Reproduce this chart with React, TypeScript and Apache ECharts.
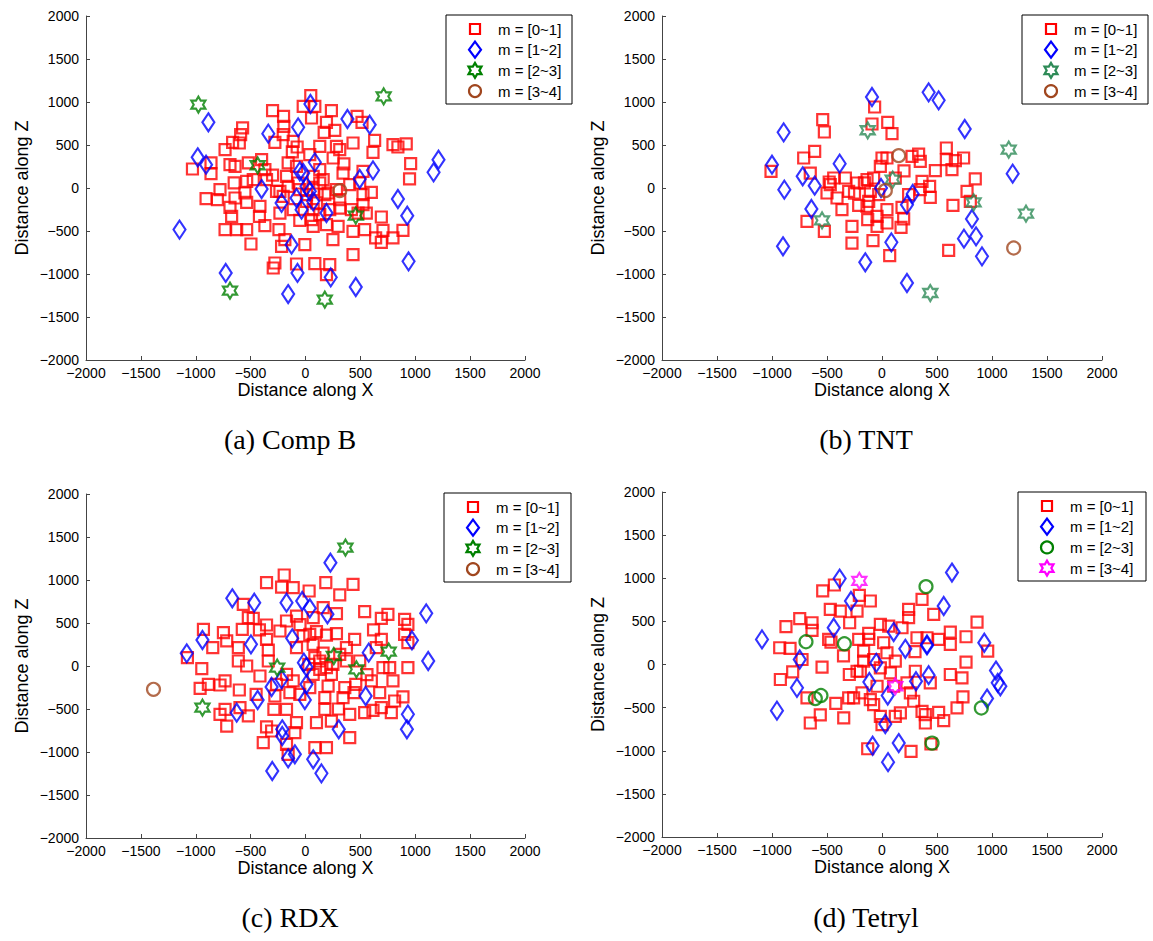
import React, { useEffect, useRef } from "react";
import * as echarts from "echarts";

// ---------- texts ----------
const legendLabels = ["m = [0~1]", "m = [1~2]", "m = [2~3]", "m = [3~4]"];
const captions = ["(a) Comp B", "(b) TNT", "(c) RDX", "(d) Tetryl"];
const xTitle = "Distance along X";
const zTitle = "Distance along Z";
const axisMin = -2000;
const axisMax = 2000;
const axisStep = 500;

// ---------- (a) Comp B ----------
const compB_m01 = [
  [48, 1074], [-21, 950], [85, 950], [-300, 899], [-200, 833], [55, 814], [236, 899], [470, 833],
  [515, 764], [191, 764], [267, 670], [170, 647], [-197, 717], [-203, 620], [-573, 698], [-591, 620],
  [-603, 523], [-664, 531], [-733, 446], [-279, 531], [-112, 543], [-76, 477], [130, 484], [282, 484],
  [312, 446], [433, 523], [630, 554], [615, 415], [797, 504], [842, 477], [918, 512], [958, 283],
  [948, 105], [252, 349], [39, 388], [-158, 291], [-400, 329], [-521, 291], [-688, 271], [-642, 252],
  [-861, 291], [-1030, 221], [-861, 167], [-779, -19], [-906, -124], [-803, -136], [-642, -116], [-688, -225],
  [-673, -329], [-552, -58], [-536, -167], [-415, -213], [-370, 213], [-536, 78], [-476, 97], [-733, -484],
  [-627, -484], [-536, -484], [-497, -651], [-370, -438], [-242, -484], [-218, -678], [-188, -601], [-6, -659],
  [-279, -872], [-294, -930], [-82, -884], [85, -880], [221, -891], [191, -1008], [433, -775], [433, -504],
  [539, -484], [297, -446], [191, -426], [70, -446], [55, -368], [-52, -376], [691, -337], [554, -291],
  [706, -492], [639, -581], [691, -632], [797, -581], [888, -492], [524, -194], [524, -78], [494, 58],
  [524, 194], [342, 174], [130, 213], [161, 97], [206, -58], [312, -136], [312, -233], [70, -252],
  [-112, -252], [-203, -97], [-264, -39], [-173, 136], [-82, 252], [-355, 97], [-233, -291], [100, -174],
  [221, -252], [418, -252], [479, -291], [9, -78], [70, -19], [-52, -19], [130, 58], [70, 136],
  [-67, 58], [176, -78], [-158, 19], [-233, -39], [9, -155], [130, -310], [282, -19], [403, 39],
  [-300, 150], [-120, 420], [350, 280], [-420, -330], [250, -600], [600, -50], [-650, 60],
];
const compB_m12 = [
  [45, 977], [-885, 764], [-339, 632], [-67, 705], [382, 802], [585, 736], [-982, 357], [-906, 271],
  [85, 298], [-52, 194], [-21, 174], [-400, -12], [615, 205], [494, 105], [1212, 329], [1167, 182],
  [9, 19], [39, -39], [-82, -116], [70, -155], [-218, -174], [-36, -252], [191, -291], [842, -128],
  [927, -322], [-1148, -484], [-127, -659], [-727, -988], [-73, -988], [230, -1039], [-158, -1233], [458, -1151],
  [939, -853],
];
const compB_m23 = [[-976, 969], [712, 1066], [-436, 264], [458, -322], [-688, -1194], [176, -1298]];
const compB_m34 = [[312, -31]];

// ---------- (b) TNT ----------
const tnt_m01 = [
  [-67, 942], [-91, 744], [-539, 795], [-524, 651], [52, 764], [91, 632], [-612, 426], [-712, 349],
  [-1009, 194], [-652, 174], [-439, 116], [-333, 116], [-470, 39], [-500, -58], [-409, -116], [-303, -39],
  [-227, 58], [-136, 97], [-76, 116], [0, 349], [45, 349], [-15, 252], [121, 116], [273, 368],
  [333, 395], [348, 310], [485, 202], [585, 465], [585, 329], [636, 213], [667, 318], [742, 349],
  [848, 105], [773, -39], [803, -155], [645, -202], [439, -109], [433, 19], [364, 78], [348, -19],
  [242, -78], [182, -225], [197, -360], [173, -457], [45, -252], [45, -407], [-45, -446], [-45, -329],
  [-130, -368], [-136, -213], [-121, -155], [-212, -202], [-273, -446], [-273, -640], [-82, -612], [70, -787],
  [606, -725], [-682, -388], [-524, -504], [-364, -252], [-106, -39], [-30, -78], [-160, 60], [-480, 70],
  [-250, -60], [200, 200],
];
const tnt_m12 = [
  [-91, 1058], [424, 1112], [515, 1019], [-894, 647], [752, 686], [-1000, 271], [-385, 283], [-721, 136],
  [-612, 27], [-888, -19], [1188, 167], [-9, 0], [279, -70], [227, -194], [-642, -244], [818, -360],
  [855, -562], [745, -589], [909, -795], [-900, -678], [85, -632], [-152, -864], [227, -1105],
];
const tnt_m23 = [[-130, 671], [1152, 446], [97, 97], [833, -167], [1309, -298], [-545, -376], [439, -1221]];
const tnt_m34 = [[152, 376], [30, -31], [1197, -698]];

// ---------- (c) RDX ----------
const rdx_m01 = [
  [-194, 1058], [-355, 969], [-218, 918], [-112, 911], [33, 872], [185, 969], [312, 826], [433, 950],
  [-567, 717], [-521, 562], [-476, 554], [-355, 477], [-173, 523], [-82, 581], [70, 562], [161, 678],
  [282, 608], [539, 632], [691, 554], [751, 601], [903, 543], [933, 484], [903, 368], [933, 271],
  [691, 310], [645, 213], [448, 310], [373, 213], [282, 376], [191, 360], [39, 368], [-233, 407],
  [-355, 310], [-576, 426], [-748, 388], [-718, 291], [-930, 426], [-845, 213], [-1076, 97], [-612, 213],
  [-612, 58], [-536, 0], [-339, 186], [-339, 58], [-415, -116], [-945, -31], [-960, -260], [-885, -213],
  [-779, -221], [-733, -174], [-603, -279], [-779, -562], [-733, -504], [-597, -484], [-521, -581], [-718, -698],
  [-355, -709], [-309, -756], [-385, -891], [-288, -504], [-173, -504], [-82, -659], [-97, -775], [-173, -911],
  [-158, -1027], [85, -950], [191, -950], [100, -659], [236, -640], [176, -504], [176, -368], [206, -233],
  [403, -833], [403, -562], [539, -543], [615, -515], [691, -484], [782, -543], [812, -407], [888, -360],
  [676, -310], [797, -174], [706, -19], [767, -19], [933, -19], [600, -174], [458, -213], [442, -310],
  [342, -368], [358, -252], [312, 136], [373, 58], [494, 58], [130, 58], [191, -19], [70, -97],
  [39, -252], [-52, -329], [-112, -174], [-173, -97], [-82, 213], [70, 252], [-21, 349], [-279, -349],
  [-142, -310], [130, -39], [236, -97], [85, 97], [-264, -213], [160, 150], [30, 20], [250, 20],
  [-420, 420], [560, -100], [-50, 480], [300, -500], [-450, -330], [620, 420], [100, 400],
];
const rdx_m12 = [
  [227, 1201], [-667, 787], [-467, 736], [-173, 736], [-30, 756], [39, 671], [200, 601], [1100, 612],
  [-939, 302], [-1082, 147], [-497, 252], [-121, 322], [970, 298], [576, 155], [1118, 58], [-15, 39],
  [9, -12], [9, -213], [-218, -155], [-309, -244], [-436, -395], [-6, -395], [548, -349], [-627, -543],
  [933, -562], [924, -736], [303, -736], [-212, -736], [-212, -814], [-97, -1027], [-158, -1074], [70, -1085],
  [145, -1248], [-303, -1221],
];
const rdx_m23 = [[364, 1376], [-258, -19], [258, 116], [464, -39], [758, 167], [-939, -484]];
const rdx_m34 = [[-1385, -271]];

// ---------- (d) Tetryl ----------
const tetryl_m01 = [
  [-539, 853], [-433, 922], [-470, 640], [-379, 620], [-227, 620], [-206, 802], [-106, 736], [-294, 484],
  [-636, 484], [-748, 531], [-873, 438], [-636, 395], [-485, 291], [-464, 260], [-930, 194], [-836, 186],
  [-727, 58], [-545, -31], [-812, -85], [-924, -174], [-682, -388], [-561, -585], [-652, -678], [-348, -620],
  [-303, -388], [-258, -388], [-297, -116], [-227, -78], [-197, -78], [-212, 291], [-121, 360], [-121, 291],
  [-167, 155], [15, 252], [61, 446], [-15, 465], [45, 136], [121, 39], [76, -97], [-76, 58],
  [-15, -39], [-167, 39], [-182, -329], [-106, -407], [-76, -465], [-15, -601], [0, -698], [121, -601],
  [167, -562], [242, 543], [242, 640], [182, 426], [364, 756], [470, 581], [318, 310], [409, 310],
  [515, 291], [621, 376], [621, 233], [764, 322], [864, 492], [961, 155], [764, 27], [621, -116],
  [727, -155], [736, -376], [682, -504], [515, -554], [561, -651], [394, -581], [394, -678], [364, -543],
  [288, -426], [258, -329], [439, -213], [303, -78], [227, -213], [264, -1008], [-130, -977], [445, -922],
  [106, -252], [-45, -252], [-350, 100], [300, 150], [-420, -450],
];
const tetryl_m12 = [
  [-385, 996], [636, 1066], [-282, 736], [561, 678], [-439, 426], [106, 376], [-1091, 291], [212, 182],
  [409, 221], [409, 233], [930, 252], [-748, 58], [-52, 19], [424, -124], [309, -194], [-115, -202],
  [-773, -271], [52, -360], [1036, -70], [1052, -213], [1076, -252], [955, -395], [-955, -535], [30, -690],
  [152, -911], [-85, -942], [55, -1132],
];
const tetryl_m23 = [[400, 903], [-691, 264], [-342, 240], [-606, -395], [-555, -360], [903, -504], [455, -911]];
const tetryl_m34 = [[-206, 969], [121, -252]];

// ---------- styling (not data) ----------
const SANS = '"Liberation Sans", Arial, Helvetica, sans-serif';
const SERIF = '"Liberation Serif", "Times New Roman", serif';
const HEX_PATH =
  "path://M50 0 L35.57 25 L6.7 25 L21.13 50 L6.7 75 L35.57 75 L50 100 L64.43 75 L93.3 75 L78.87 50 L93.3 25 L64.43 25 Z";

type Marker = { kind: "square" | "diamond" | "hex" | "circle"; color: string };
const RED = "#ff0000";
const BLUE = "#0000ff";
const GREEN = "#008000";
const SEAGREEN = "#2e8b57";
const BROWN = "#a0461e";
const MAGENTA = "#ff00ff";

const panels = [
  {
    grid: { left: 86, top: 16, width: 439, height: 344 },
    legendBox: [446, 15, 126, 89],
    caption: [290, 439],
    sets: [compB_m01, compB_m12, compB_m23, compB_m34],
    markers: [
      { kind: "square", color: RED }, { kind: "diamond", color: BLUE },
      { kind: "hex", color: GREEN }, { kind: "circle", color: BROWN },
    ] as Marker[],
  },
  {
    grid: { left: 662, top: 16, width: 440, height: 344 },
    legendBox: [1022, 15, 126, 89],
    caption: [866, 439],
    sets: [tnt_m01, tnt_m12, tnt_m23, tnt_m34],
    markers: [
      { kind: "square", color: RED }, { kind: "diamond", color: BLUE },
      { kind: "hex", color: SEAGREEN }, { kind: "circle", color: BROWN },
    ] as Marker[],
  },
  {
    grid: { left: 86, top: 494, width: 439, height: 344 },
    legendBox: [444, 493, 127, 89],
    caption: [290, 917],
    sets: [rdx_m01, rdx_m12, rdx_m23, rdx_m34],
    markers: [
      { kind: "square", color: RED }, { kind: "diamond", color: BLUE },
      { kind: "hex", color: GREEN }, { kind: "circle", color: BROWN },
    ] as Marker[],
  },
  {
    grid: { left: 662, top: 492, width: 440, height: 345 },
    legendBox: [1018, 492, 128, 89],
    caption: [866, 917],
    sets: [tetryl_m01, tetryl_m12, tetryl_m23, tetryl_m34],
    markers: [
      { kind: "square", color: RED }, { kind: "diamond", color: BLUE },
      { kind: "circle", color: GREEN }, { kind: "hex", color: MAGENTA },
    ] as Marker[],
  },
];

function symbolOf(m: Marker) {
  switch (m.kind) {
    case "square":
      return { symbol: "rect", symbolSize: 11 };
    case "diamond":
      return { symbol: "diamond", symbolSize: [12, 18] };
    case "hex":
      return { symbol: HEX_PATH, symbolSize: [14, 16] };
    default:
      return { symbol: "circle", symbolSize: 13 };
  }
}

function hexPoints(R: number) {
  const pts: number[][] = [];
  for (let i = 0; i < 12; i++) {
    const ang = Math.PI / 2 + (i * Math.PI) / 6;
    const r = i % 2 === 0 ? R : R / Math.sqrt(3);
    pts.push([r * Math.cos(ang), -r * Math.sin(ang)]);
  }
  return pts;
}

function legendMarker(m: Marker, cx: number, cy: number) {
  const style = { fill: "none", stroke: m.color, lineWidth: 2.2 };
  if (m.kind === "square") return { type: "rect", shape: { x: cx - 5, y: cy - 5, width: 10, height: 10 }, style };
  if (m.kind === "diamond")
    return { type: "polygon", shape: { points: [[cx, cy - 8], [cx + 6, cy], [cx, cy + 8], [cx - 6, cy]] }, style };
  if (m.kind === "circle") return { type: "circle", shape: { cx, cy, r: 6 }, style };
  return { type: "polygon", shape: { points: hexPoints(7.5).map(([x, y]) => [cx + x, cy + y]) }, style };
}

const fmt = (v: number) => (v < 0 ? "\u2212" + Math.abs(v) : String(v));

export default function App() {
  const ref = useRef<HTMLDivElement>(null);
  useEffect(() => {
    if (!ref.current) return;
    const chart = echarts.init(ref.current, undefined, { renderer: "svg" });

    const axisCommon = {
      type: "value",
      min: axisMin,
      max: axisMax,
      interval: axisStep,
      splitLine: { show: false },
      axisLine: { show: true, onZero: false, lineStyle: { color: "#444", width: 1 } },
      axisTick: { show: true, inside: true, length: 4, lineStyle: { color: "#444" } },
      nameLocation: "middle",
      nameTextStyle: { fontSize: 18, color: "#000", fontFamily: SANS },
    };

    const series: any[] = [];
    panels.forEach((p, pi) => {
      p.sets.forEach((data, si) => {
        const m = p.markers[si];
        series.push({
          type: "scatter",
          name: legendLabels[si] + " #" + pi,
          xAxisIndex: pi,
          yAxisIndex: pi,
          data,
          ...symbolOf(m),
          itemStyle: { color: "rgba(0,0,0,0)", borderColor: m.color, borderWidth: 2.2 },
          emphasis: { disabled: true },
          silent: true,
        });
      });
    });

    const graphics: any[] = [];
    panels.forEach((p, pi) => {
      const [bx, by, bw, bh] = p.legendBox;
      const children: any[] = [
        { type: "rect", shape: { x: 0, y: 0, width: bw, height: bh }, style: { fill: "#fff", stroke: "#000", lineWidth: 1 } },
      ];
      p.markers.forEach((m, i) => {
        const cy = 14 + i * 20.7;
        children.push(legendMarker(m, 29, cy));
        children.push({
          type: "text",
          style: {
            text: legendLabels[i],
            x: 52,
            y: cy,
            fill: "#000",
            fontSize: 15,
            fontFamily: SANS,
            verticalAlign: "middle",
            align: "left",
          },
        });
      });
      graphics.push({ type: "group", x: bx, y: by, z: 100, children });
      graphics.push({
        type: "text",
        x: p.caption[0],
        y: p.caption[1],
        style: {
          text: captions[pi],
          fill: "#000",
          fontSize: 28,
          fontFamily: SERIF,
          align: "center",
          verticalAlign: "middle",
        },
      });
    });

    chart.setOption({
      animation: false,
      backgroundColor: "#fff",
      grid: panels.map((p) => ({ ...p.grid, containLabel: false })),
      xAxis: panels.map((_, i) => ({
        ...axisCommon,
        gridIndex: i,
        name: xTitle,
        nameGap: 20,
        axisLabel: { margin: 6, fontSize: 14, color: "#000", fontFamily: SANS, formatter: fmt },
      })),
      yAxis: panels.map((_, i) => ({
        ...axisCommon,
        gridIndex: i,
        name: zTitle,
        nameGap: 55,
        axisLabel: { margin: 7, fontSize: 14, color: "#000", fontFamily: SANS, formatter: fmt },
      })),
      series,
      graphic: graphics,
    });
    return () => chart.dispose();
  }, []);
  return (
    <div
      ref={ref}
      style={{ position: "absolute", left: 0, top: 0, width: 1153, height: 941, background: "#fff" }}
    />
  );
}
